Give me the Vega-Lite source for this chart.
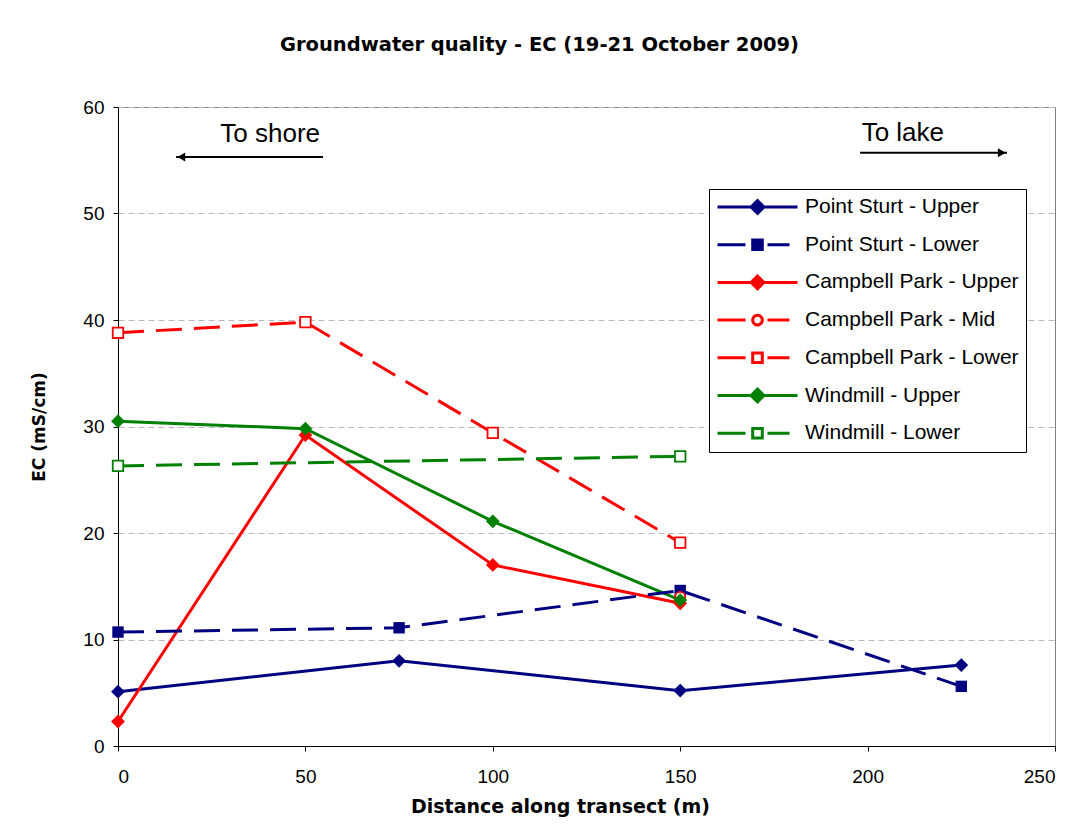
{
  "$schema": "https://vega.github.io/schema/vega-lite/v6.json",
  "width": 937,
  "height": 639,
  "autosize": "none",
  "padding": {"left": 118, "top": 107, "right": 20, "bottom": 82},
  "background": "white",
  "title": {
    "text": "Groundwater quality - EC (19-21 October 2009)",
    "font": "DejaVu Sans",
    "fontSize": 19.5,
    "fontWeight": "bold",
    "color": "black",
    "anchor": "middle",
    "dx": -47,
    "offset": 43
  },
  "config": {
    "font": "Liberation Sans",
    "view": {"stroke": "#808080", "strokeWidth": 1},
    "axis": {
      "labelFont": "Liberation Sans",
      "labelFontSize": 19,
      "labelColor": "black",
      "titleFont": "DejaVu Sans",
      "titleFontWeight": "bold",
      "titleColor": "black",
      "domainColor": "black",
      "tickColor": "black",
      "tickSize": 5
    },
    "legend": {
      "orient": "none",
      "legendX": 591,
      "legendY": 82,
      "labelFont": "Liberation Sans",
      "labelFontSize": 21,
      "labelColor": "black",
      "labelOffset": 6,
      "labelLimit": 400,
      "strokeColor": "black",
      "fillColor": "white",
      "padding": 7,
      "rowPadding": 15.7,
      "symbolStrokeWidth": 3,
      "symbolSize": 6400,
      "symbolOpacity": 1,
      "symbolDash": [1, 0],
      "clipHeight": 22
    }
  },
  "datasets": {
    "ec": [
      {"series": "Point Sturt - Upper", "distance": 0, "ec": 5.1},
      {"series": "Point Sturt - Upper", "distance": 75, "ec": 8.0},
      {"series": "Point Sturt - Upper", "distance": 150, "ec": 5.2},
      {"series": "Point Sturt - Upper", "distance": 225, "ec": 7.6},
      {"series": "Point Sturt - Lower", "distance": 0, "ec": 10.7},
      {"series": "Point Sturt - Lower", "distance": 75, "ec": 11.1},
      {"series": "Point Sturt - Lower", "distance": 150, "ec": 14.6},
      {"series": "Point Sturt - Lower", "distance": 225, "ec": 5.6},
      {"series": "Campbell Park - Upper", "distance": 0, "ec": 2.3},
      {"series": "Campbell Park - Upper", "distance": 50, "ec": 29.2},
      {"series": "Campbell Park - Upper", "distance": 100, "ec": 17.0},
      {"series": "Campbell Park - Upper", "distance": 150, "ec": 13.4},
      {"series": "Campbell Park - Mid", "distance": 150, "ec": 14.0},
      {"series": "Campbell Park - Lower", "distance": 0, "ec": 38.8},
      {"series": "Campbell Park - Lower", "distance": 50, "ec": 39.8},
      {"series": "Campbell Park - Lower", "distance": 100, "ec": 29.4},
      {"series": "Campbell Park - Lower", "distance": 150, "ec": 19.1},
      {"series": "Windmill - Upper", "distance": 0, "ec": 30.5},
      {"series": "Windmill - Upper", "distance": 50, "ec": 29.8},
      {"series": "Windmill - Upper", "distance": 100, "ec": 21.1},
      {"series": "Windmill - Upper", "distance": 150, "ec": 13.7},
      {"series": "Windmill - Lower", "distance": 0, "ec": 26.3},
      {"series": "Windmill - Lower", "distance": 150, "ec": 27.2}
    ],
    "notes": [
      {"label": "To shore", "x": 40.6, "y": 57.5},
      {"label": "To lake", "x": 209.4, "y": 57.6}
    ],
    "arrows": [
      {"label": "To shore", "from": 54.7, "to": 15.5, "y": 55.3, "head": 16.9},
      {"label": "To lake", "from": 198.0, "to": 237.2, "y": 55.7, "head": 235.8}
    ]
  },
  "layer": [
    {
      "data": {"name": "notes"},
      "mark": {"type": "text", "fontSize": 26, "font": "Liberation Sans", "color": "black", "align": "center", "baseline": "middle"},
      "encoding": {
        "x": {"field": "x", "type": "quantitative", "scale": {"domain": [0, 250], "nice": false}},
        "y": {"field": "y", "type": "quantitative", "scale": {"domain": [0, 60], "nice": false}},
        "text": {"field": "label"}
      }
    },
    {
      "data": {"name": "arrows"},
      "mark": {"type": "rule", "color": "black", "strokeWidth": 2},
      "encoding": {
        "x": {"field": "from", "type": "quantitative"},
        "x2": {"field": "to"},
        "y": {"field": "y", "type": "quantitative"}
      }
    },
    {
      "data": {"name": "arrows"},
      "transform": [{"filter": "datum.label === 'To shore'"}],
      "mark": {"type": "point", "shape": "triangle-left", "filled": true, "color": "black", "size": 80, "opacity": 1},
      "encoding": {
        "x": {"field": "head", "type": "quantitative"},
        "y": {"field": "y", "type": "quantitative"}
      }
    },
    {
      "data": {"name": "arrows"},
      "transform": [{"filter": "datum.label === 'To lake'"}],
      "mark": {"type": "point", "shape": "triangle-right", "filled": true, "color": "black", "size": 80, "opacity": 1},
      "encoding": {
        "x": {"field": "head", "type": "quantitative"},
        "y": {"field": "y", "type": "quantitative"}
      }
    },
    {
      "data": {"name": "ec"},
      "mark": {"type": "point", "filled": true, "strokeWidth": 3, "opacity": 0, "size": 6400},
      "encoding": {
        "x": {"field": "distance", "type": "quantitative"},
        "y": {"field": "ec", "type": "quantitative"},
        "stroke": {
          "field": "series", "type": "nominal",
          "scale": {
            "domain": ["Point Sturt - Upper", "Point Sturt - Lower", "Campbell Park - Upper", "Campbell Park - Mid", "Campbell Park - Lower", "Windmill - Upper", "Windmill - Lower"],
            "range": ["#000080", "#000080", "#FF0000", "#FF0000", "#FF0000", "#008000", "#008000"]
          },
          "legend": {"title": null, "symbolOpacity": 1}
        },
        "fill": {
          "field": "series", "type": "nominal",
          "scale": {
            "domain": ["Point Sturt - Upper", "Point Sturt - Lower", "Campbell Park - Upper", "Campbell Park - Mid", "Campbell Park - Lower", "Windmill - Upper", "Windmill - Lower"],
            "range": ["#000080", "#000080", "#FF0000", "white", "white", "#008000", "white"]
          },
          "legend": {"title": null, "symbolOpacity": 1}
        },
        "shape": {
          "field": "series", "type": "nominal",
          "scale": {
            "domain": ["Point Sturt - Upper", "Point Sturt - Lower", "Campbell Park - Upper", "Campbell Park - Mid", "Campbell Park - Lower", "Windmill - Upper", "Windmill - Lower"],
            "range": [
              "M-1,0H1M0,-0.16L0.16,0L0,0.16L-0.16,0Z",
              "M-1,0H-0.3M0.25,0H0.8M-0.12,-0.12H0.12V0.12H-0.12Z",
              "M-1,0H1M0,-0.16L0.16,0L0,0.16L-0.16,0Z",
              "M-1,0H-0.3M0.25,0H0.8M0.12,0A0.12,0.12,0,1,1,-0.12,0A0.12,0.12,0,1,1,0.12,0Z",
              "M-1,0H-0.3M0.25,0H0.8M-0.12,-0.12H0.12V0.12H-0.12Z",
              "M-1,0H1M0,-0.16L0.16,0L0,0.16L-0.16,0Z",
              "M-1,0H-0.3M0.25,0H0.8M-0.12,-0.12H0.12V0.12H-0.12Z"
            ]
          },
          "legend": {"title": null, "symbolOpacity": 1}
        }
      }
    },
    {
      "data": {"name": "ec"},
      "transform": [{"filter": "datum.series === 'Point Sturt - Upper' || datum.series === 'Campbell Park - Upper' || datum.series === 'Windmill - Upper'"}],
      "mark": {"type": "line", "strokeWidth": 3},
      "encoding": {
        "x": {
          "field": "distance", "type": "quantitative",
          "scale": {"domain": [0, 250], "nice": false},
          "axis": {"values": [0, 50, 100, 150, 200, 250], "grid": false, "title": "Distance along transect (m)", "titleFontSize": 19, "titleX": 442, "labelPadding": 16, "titlePadding": 11}
        },
        "y": {
          "field": "ec", "type": "quantitative",
          "scale": {"domain": [0, 60], "nice": false},
          "axis": {"values": [0, 10, 20, 30, 40, 50, 60], "grid": true, "gridColor": "#b8b8b8", "gridDash": [6, 4], "title": "EC (mS/cm)", "titleFontSize": 17, "labelPadding": 9, "titlePadding": 34}
        },
        "color": {
          "field": "series", "type": "nominal",
          "scale": {
            "domain": ["Point Sturt - Upper", "Point Sturt - Lower", "Campbell Park - Upper", "Campbell Park - Mid", "Campbell Park - Lower", "Windmill - Upper", "Windmill - Lower"],
            "range": ["#000080", "#000080", "#FF0000", "#FF0000", "#FF0000", "#008000", "#008000"]
          },
          "legend": null
        }
      }
    },
    {
      "data": {"name": "ec"},
      "transform": [{"filter": "datum.series === 'Point Sturt - Lower' || datum.series === 'Campbell Park - Lower' || datum.series === 'Windmill - Lower'"}],
      "mark": {"type": "line", "strokeWidth": 3, "strokeDash": [26, 12]},
      "encoding": {
        "x": {"field": "distance", "type": "quantitative"},
        "y": {"field": "ec", "type": "quantitative"},
        "color": {"field": "series", "type": "nominal", "legend": null}
      }
    },
    {
      "data": {"name": "ec"},
      "transform": [{"filter": "datum.series === 'Point Sturt - Lower'"}],
      "mark": {"type": "point", "shape": "square", "filled": true, "opacity": 1, "size": 130},
      "encoding": {
        "x": {"field": "distance", "type": "quantitative"},
        "y": {"field": "ec", "type": "quantitative"},
        "color": {"field": "series", "type": "nominal", "legend": null}
      }
    },
    {
      "data": {"name": "ec"},
      "transform": [{"filter": "datum.series === 'Campbell Park - Lower' || datum.series === 'Windmill - Lower'"}],
      "mark": {"type": "point", "shape": "square", "filled": false, "fill": "white", "fillOpacity": 1, "strokeWidth": 1.8, "opacity": 1, "size": 110},
      "encoding": {
        "x": {"field": "distance", "type": "quantitative"},
        "y": {"field": "ec", "type": "quantitative"},
        "color": {"field": "series", "type": "nominal", "legend": null}
      }
    },
    {
      "data": {"name": "ec"},
      "transform": [{"filter": "datum.series === 'Campbell Park - Mid'"}],
      "mark": {"type": "point", "shape": "circle", "filled": false, "fill": "white", "fillOpacity": 1, "strokeWidth": 1.8, "opacity": 1, "size": 100},
      "encoding": {
        "x": {"field": "distance", "type": "quantitative"},
        "y": {"field": "ec", "type": "quantitative"},
        "color": {"field": "series", "type": "nominal", "legend": null}
      }
    },
    {
      "data": {"name": "ec"},
      "transform": [{"filter": "datum.series === 'Point Sturt - Upper' || datum.series === 'Campbell Park - Upper' || datum.series === 'Windmill - Upper'"}],
      "mark": {"type": "point", "shape": "diamond", "filled": true, "opacity": 1, "size": 190},
      "encoding": {
        "x": {"field": "distance", "type": "quantitative"},
        "y": {"field": "ec", "type": "quantitative"},
        "color": {"field": "series", "type": "nominal", "legend": null}
      }
    }
  ]
}
